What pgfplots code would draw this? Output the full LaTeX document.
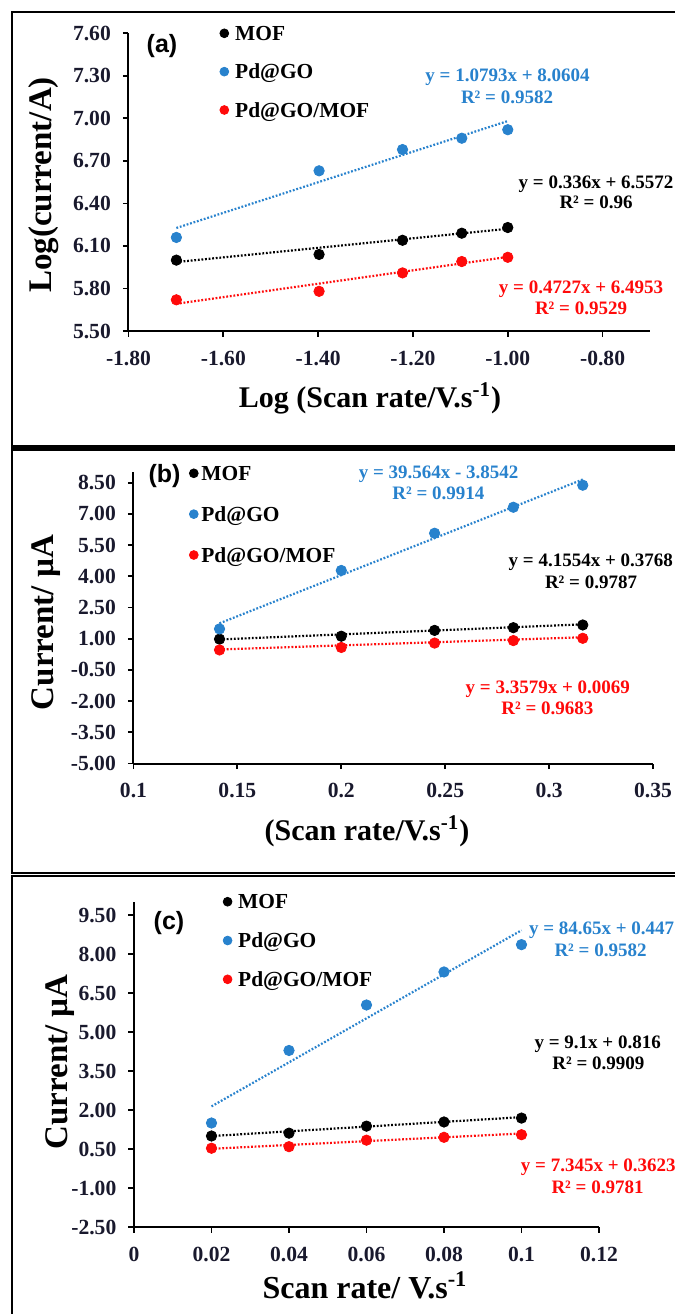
\documentclass[border=0pt]{standalone}
\usepackage{fontspec}
\setmainfont{Liberation Serif}
\newfontfamily\arialfont{Liberation Sans}
\usepackage{pgfplots}
\pgfplotsset{compat=1.18}
\definecolor{cblue}{RGB}{40,130,205}
\definecolor{cred}{RGB}{255,10,10}
\definecolor{tickcol}{RGB}{25,25,45}
\newcommand\ticfont{\fontsize{10.8}{12}\selectfont\bfseries}
\newcommand\eqfont{\fontsize{9.5}{11}\selectfont\bfseries}
\newcommand\legfont{\fontsize{10.7}{12}\selectfont\bfseries}
\newcommand\xtfont{\fontsize{15}{17}\selectfont\bfseries}
\newcommand\ytfont{\fontsize{16.5}{18}\selectfont\bfseries}
\newcommand\panfont{\arialfont\fontsize{12.5}{14}\selectfont\bfseries}
\pgfplotsset{
  panel/.style={
    scale only axis,
    axis lines=left,
    axis line style={-, line width=1pt, black},
    every outer x axis line/.append style={-},
    every outer y axis line/.append style={-},
    tick style={line width=0.9pt, black},
    tick align=outside,
    major tick length=2.8pt,
    ticklabel style={font=\ticfont, text=tickcol},
    yticklabel style={xshift=-2.5pt},
    xticklabel style={yshift=-3.5pt},
    /pgf/number format/assume math mode=true,
    clip=false,
    legend cell align=left,
    legend image code/.code={\draw[##1, mark size=2.2pt] plot coordinates {(0pt,1.1pt)};},
    legend style={draw=none, fill=none, inner sep=0pt, outer sep=0pt, anchor=north west,
      font=\legfont, nodes={inner sep=0pt, text height=7.5pt, text depth=2.5pt}},
  },
  pts/.style={only marks, mark=*, mark size=2.6pt, mark options={draw=#1, fill=#1}, color=#1},
  trend/.style={forget plot, no marks, color=#1, line width=1.1pt, dash pattern=on 0.9pt off 0.9pt},
}
\tikzset{eq/.style={font=\eqfont, inner sep=0pt, text height=6.4pt, text depth=0pt, anchor=center}}
\begin{document}
\begin{tikzpicture}
\useasboundingbox (0,0) rectangle (337.5pt,-657pt);
\clip (0,0) rectangle (337.5pt,-657pt);
% frames
\draw[line width=1.2pt] (340pt,-5.85pt) -- (5.85pt,-5.85pt) -- (5.85pt,-223.15pt) -- (340pt,-223.15pt);
\draw[line width=1.2pt] (340pt,-224.7pt) -- (5.85pt,-224.7pt) -- (5.85pt,-436.5pt) -- (340pt,-436.5pt);
\draw[line width=1.2pt] (340pt,-437.9pt) -- (5.85pt,-437.9pt) -- (5.85pt,-665pt);

% ---------------- (a)
\begin{axis}[panel, at={(64.25pt,-165.5pt)}, anchor=south west,
  width=260.75pt, height=148.85pt,
  xmin=-1.8, xmax=-0.7, ymin=5.5, ymax=7.6,
  xtick={-1.8,-1.6,-1.4,-1.2,-1.0,-0.8},
  xticklabels={-1.80,-1.60,-1.40,-1.20,-1.00,-0.80},
  ytick={5.5,5.8,6.1,6.4,6.7,7.0,7.3,7.6},
  yticklabels={5.50,5.80,6.10,6.40,6.70,7.00,7.30,7.60},
  legend style={at={(0.1753,1.0262)}, row sep=9.17pt, column sep=3.25pt}]
\addplot[trend=black] coordinates {(-1.699,5.9863) (-1.0,6.2212)};
\addplot[trend=cblue] coordinates {(-1.699,6.2267) (-1.0,6.9811)};
\addplot[trend=cred] coordinates {(-1.699,5.6922) (-1.0,6.0226)};
\addplot[pts=black] coordinates {(-1.699,6.00) (-1.398,6.04) (-1.222,6.14) (-1.097,6.19) (-1.0,6.23)};
\addplot[pts=cblue] coordinates {(-1.699,6.16) (-1.398,6.63) (-1.222,6.78) (-1.097,6.86) (-1.0,6.92)};
\addplot[pts=cred] coordinates {(-1.699,5.72) (-1.398,5.78) (-1.222,5.91) (-1.097,5.99) (-1.0,6.02)};
\legend{MOF,Pd@GO,Pd@GO/MOF}
\end{axis}

% ---------------- (b)
\begin{axis}[panel, at={(66.75pt,-381.75pt)}, anchor=south west,
  width=259.75pt, height=145.6pt,
  xmin=0.1, xmax=0.35, ymin=-5, ymax=9,
  xtick={0.1,0.15,0.2,0.25,0.3,0.35},
  xticklabels={0.1,0.15,0.2,0.25,0.3,0.35},
  ytick={-5,-3.5,-2,-0.5,1,2.5,4,5.5,7,8.5},
  yticklabels={-5.00,-3.50,-2.00,-0.50,1.00,2.50,4.00,5.50,7.00,8.50},
  legend style={at={(0.1076,1.0234)}, row sep=10.43pt, column sep=1.6pt}]
\addplot[trend=black] coordinates {(0.1414,0.964) (0.3162,1.691)};
\addplot[trend=cblue] coordinates {(0.1414,1.740) (0.3162,8.656)};
\addplot[trend=cred] coordinates {(0.1414,0.482) (0.3162,1.069)};
\addplot[pts=black] coordinates {(0.1414,0.98) (0.2,1.12) (0.2449,1.40) (0.2828,1.53) (0.3162,1.66)};
\addplot[pts=cblue] coordinates {(0.1414,1.47) (0.2,4.28) (0.2449,6.07) (0.2828,7.32) (0.3162,8.38)};
\addplot[pts=cred] coordinates {(0.1414,0.46) (0.2,0.58) (0.2449,0.79) (0.2828,0.91) (0.3162,1.02)};
\legend{MOF,Pd@GO,Pd@GO/MOF}
\end{axis}

% ---------------- (c)
\begin{axis}[panel, at={(67pt,-613.5pt)}, anchor=south west,
  width=232.5pt, height=162.5pt,
  xmin=0, xmax=0.12, ymin=-2.5, ymax=10,
  xtick={0,0.02,0.04,0.06,0.08,0.1,0.12},
  xticklabels={0,0.02,0.04,0.06,0.08,0.1,0.12},
  ytick={-2.5,-1,0.5,2,3.5,5,6.5,8,9.5},
  yticklabels={-2.50,-1.00,0.50,2.00,3.50,5.00,6.50,8.00,9.50},
  legend style={at={(0.1918,1.0249)}, row sep=9.4pt, column sep=3.1pt}]
\addplot[trend=black] coordinates {(0.02,0.998) (0.1,1.726)};
\addplot[trend=cblue] coordinates {(0.02,2.140) (0.1,8.912)};
\addplot[trend=cred] coordinates {(0.02,0.509) (0.1,1.097)};
\addplot[pts=black] coordinates {(0.02,1.00) (0.04,1.11) (0.06,1.38) (0.08,1.54) (0.1,1.69)};
\addplot[pts=cblue] coordinates {(0.02,1.50) (0.04,4.29) (0.06,6.04) (0.08,7.31) (0.1,8.36)};
\addplot[pts=cred] coordinates {(0.02,0.53) (0.04,0.59) (0.06,0.84) (0.08,0.95) (0.1,1.05)};
\legend{MOF,Pd@GO,Pd@GO/MOF}
\end{axis}

% ---------- texts (a)
\node[font=\panfont, inner sep=0pt, text height=9pt, text depth=0pt] at (81pt,-21.5pt) {(a)};
\node[font=\ytfont, rotate=90, inner sep=0pt, text height=11pt, text depth=0pt] at (20.5pt,-92.5pt) {Log(current/A)};
\node[font=\xtfont, inner sep=0pt, text height=10pt, text depth=0pt] at (185pt,-198.5pt) {Log (Scan rate/V.s\textsuperscript{-1})};
\node[eq, text=cblue] at (253.75pt,-37.5pt) {y = 1.0793x + 8.0604};
\node[eq, text=cblue] at (253.5pt,-48.35pt) {R² = 0.9582};
\node[eq, text=black] at (298pt,-90.85pt) {y = 0.336x + 6.5572};
\node[eq, text=black] at (298pt,-101pt) {R² = 0.96};
\node[eq, text=cred] at (290.5pt,-143.5pt) {y = 0.4727x + 6.4953};
\node[eq, text=cred] at (290.5pt,-154.25pt) {R² = 0.9529};

% ---------- texts (b)
\node[font=\panfont, inner sep=0pt, text height=9pt, text depth=0pt] at (82.3pt,-236.5pt) {(b)};
\node[font=\ytfont, rotate=90, inner sep=0pt, text height=11pt, text depth=0pt] at (21.5pt,-311.25pt) {Current/ µA};
\node[font=\xtfont, inner sep=0pt, text height=10pt, text depth=0pt] at (183.5pt,-415pt) {(Scan rate/V.s\textsuperscript{-1})};
\node[eq, text=cblue] at (219.3pt,-236.15pt) {y = 39.564x - 3.8542};
\node[eq, text=cblue] at (219.2pt,-246.65pt) {R² = 0.9914};
\node[eq, text=black] at (295.4pt,-280pt) {y = 4.1554x + 0.3768};
\node[eq, text=black] at (295.5pt,-290.85pt) {R² = 0.9787};
\node[eq, text=cred] at (273.9pt,-343.65pt) {y = 3.3579x + 0.0069};
\node[eq, text=cred] at (273.7pt,-354.15pt) {R² = 0.9683};

% ---------- texts (c)
\node[font=\panfont, inner sep=0pt, text height=9pt, text depth=0pt] at (84.5pt,-460pt) {(c)};
\node[font=\ytfont, rotate=90, inner sep=0pt, text height=11pt, text depth=0pt] at (28.5pt,-530.85pt) {Current/ µA};
\node[font=\fontsize{16}{18}\selectfont\bfseries, inner sep=0pt, text height=10.5pt, text depth=0pt] at (182.5pt,-644.15pt) {Scan rate/ V.s\textsuperscript{-1}};
\node[eq, text=cblue] at (300.8pt,-464.15pt) {y = 84.65x + 0.447};
\node[eq, text=cblue] at (300.25pt,-475pt) {R² = 0.9582};
\node[eq, text=black] at (298.85pt,-520.85pt) {y = 9.1x + 0.816};
\node[eq, text=black] at (299.2pt,-531.65pt) {R² = 0.9909};
\node[eq, text=cred] at (299.15pt,-582.5pt) {y = 7.345x + 0.3623};
\node[eq, text=cred] at (298.75pt,-593.35pt) {R² = 0.9781};
\end{tikzpicture}
\end{document}
